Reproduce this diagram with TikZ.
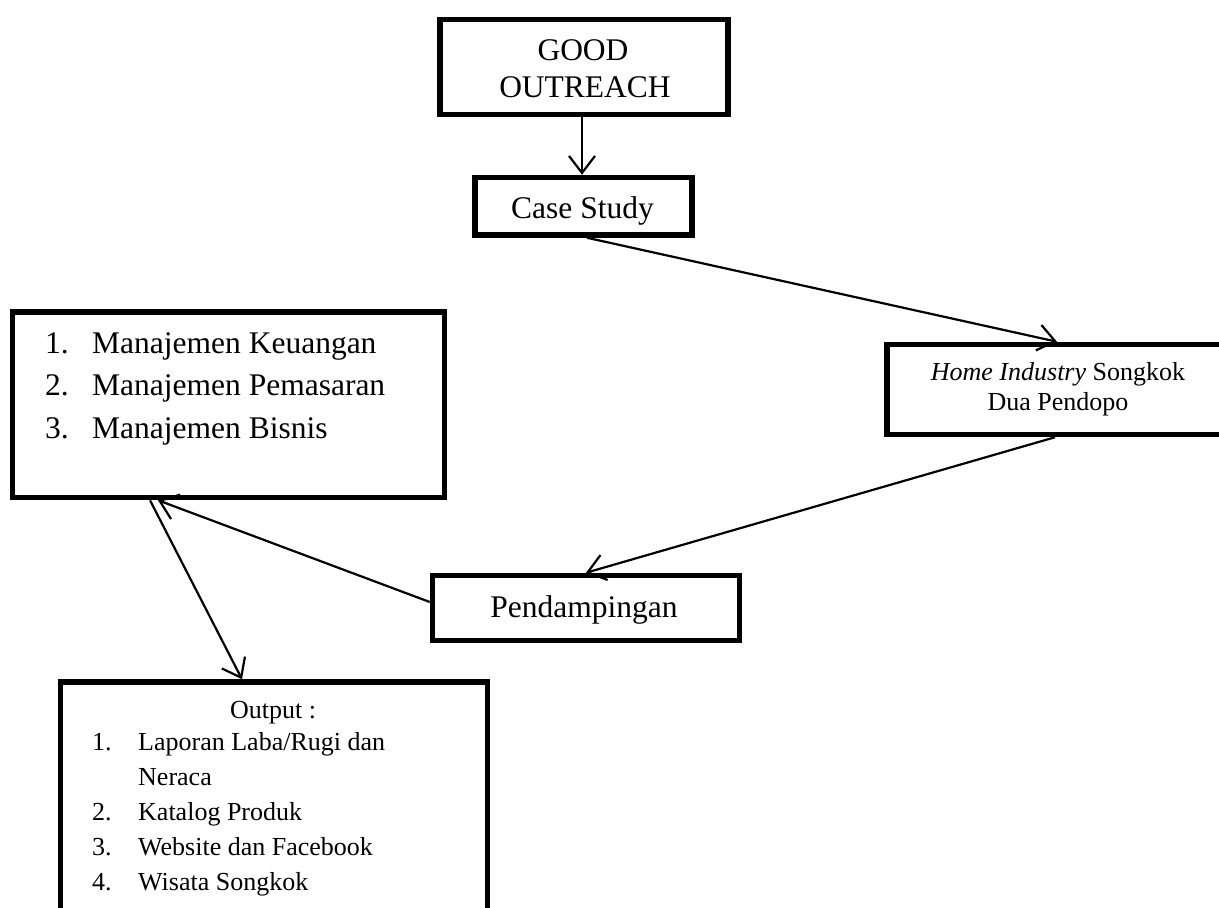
\documentclass[tikz,border=0pt]{standalone}
\usepackage{fontspec}
\setmainfont{Liberation Serif}
\usetikzlibrary{arrows.meta}
\tikzset{
  box/.style={draw, line width=5.5pt, rectangle, inner sep=0pt},
  conn/.style={line width=2.2pt, -{Straight Barb[length=17pt,width=26pt,line width=2.2pt]}},
  big/.style={font=\fontsize{31.5}{36}\selectfont, inner sep=0pt, anchor=base},
  mid/.style={font=\fontsize{26}{30}\selectfont, inner sep=0pt, anchor=base},
  bigl/.style={font=\fontsize{31.5}{36}\selectfont, inner sep=0pt, anchor=base west},
  midl/.style={font=\fontsize{26}{30}\selectfont, inner sep=0pt, anchor=base west}
}
\begin{document}
\begin{tikzpicture}[x=1pt,y=-1pt]
\clip (0,0) rectangle (1219,908);
\fill[white] (0,0) rectangle (1219,908);
% boxes
\node[box, minimum width=288pt, minimum height=95pt] (good) at (584,67) {};
\node[box, minimum width=217pt, minimum height=57.5pt] (case) at (583.5,206.25) {};
\node[box, minimum width=353pt, minimum height=90pt] (home) at (1063.5,389.5) {};
\node[box, minimum width=307pt, minimum height=65pt] (pend) at (586,608) {};
\node[box, minimum width=432pt, minimum height=185.5pt] (man) at (228.5,404.75) {};
\node[box, minimum width=427pt, minimum height=260pt] (out) at (274,812) {};
% texts
\node[big] (t1) at (583,60) {GOOD};
\node[big] (t2) at (585,97) {OUTREACH};
\node[big] (t3) at (582.5,218) {Case Study};
\node[mid] (t4) at (1058,380) {\textit{Home Industry} Songkok};
\node[mid] (t5) at (1058,410) {Dua Pendopo};
\node[big] (t6) at (584,617) {Pendampingan};
\node[bigl] (m1n) at (45,353) {1.};
\node[bigl] (m1) at (92,353) {Manajemen Keuangan};
\node[bigl] (m2n) at (45,395.5) {2.};
\node[bigl] (m2) at (92,395.5) {Manajemen Pemasaran};
\node[bigl] (m3n) at (45,438) {3.};
\node[bigl] (m3) at (92,438) {Manajemen Bisnis};
\node[mid] (o0) at (273,718) {Output :};
\node[midl] (o1n) at (92,750) {1.};
\node[midl] (o1) at (138,750) {Laporan Laba/Rugi dan};
\node[midl] (o1b) at (138,785) {Neraca};
\node[midl] (o2n) at (92,820) {2.};
\node[midl] (o2) at (138,820) {Katalog Produk};
\node[midl] (o3n) at (92,855) {3.};
\node[midl] (o3) at (138,855) {Website dan Facebook};
\node[midl] (o4n) at (92,890) {4.};
\node[midl] (o4) at (138,890) {Wisata Songkok};
% connectors
\draw[conn] ([xshift=-2pt]good.south) -- ([xshift=-1.5pt]case.north);
\draw[conn] ([xshift=3.5pt]case.south) -- ([xshift=-6.5pt]home.north);
\draw[conn] ([xshift=-8.5pt]home.south) -- ([xshift=0pt]pend.north);
\draw[conn] ([yshift=6pt]pend.west) -- ([xshift=-70.5pt]man.south);
\draw[conn] ([xshift=-78.5pt]man.south) -- ([xshift=-32pt]out.north);
\end{tikzpicture}
\end{document}
